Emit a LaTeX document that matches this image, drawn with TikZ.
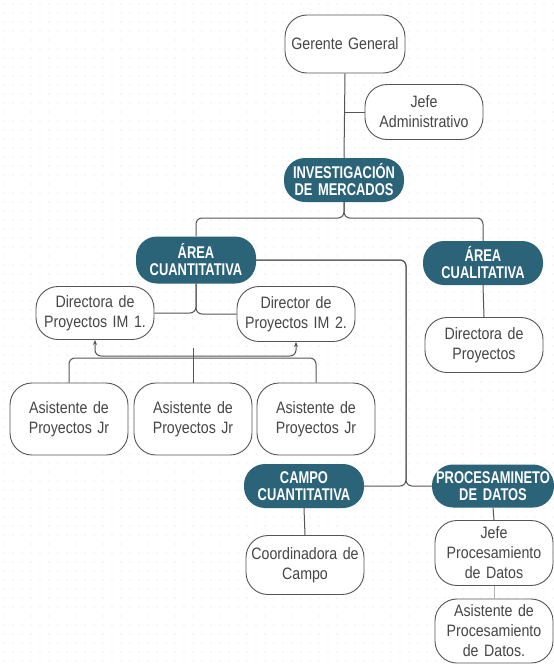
\documentclass[tikz,border=0pt]{standalone}
\usepackage{fontspec}
\setmainfont{Liberation Sans}[FakeStretch=0.86]
\newfontfamily\headfont{Liberation Sans}[FakeStretch=0.76]
\usepackage{tikz}
\usetikzlibrary{arrows.meta, positioning, calc}

\definecolor{tealbox}{RGB}{43,99,120}
\definecolor{linegray}{RGB}{85,85,85}
\definecolor{textgray}{RGB}{70,70,70}
\definecolor{dotgray}{RGB}{222,222,222}

\begin{document}
\begin{tikzpicture}[
    x=1pt, y=-1pt,
    node distance=3mm,
    role/.style={rectangle, draw=linegray, line width=0.9pt, fill=white, rounded corners=22pt, text width=114pt, align=center, minimum width=118pt, minimum height=55pt, inner sep=2pt, text=textgray, font=\fontsize{16.5}{20}\selectfont},
    area/.style={rectangle, fill=tealbox, rounded corners=21pt, text width=118pt, align=center, minimum width=117pt, minimum height=44pt, inner sep=1pt, text=white, font=\headfont\bfseries\fontsize{17}{17}\selectfont},
    link/.style={draw=linegray, line width=1pt, rounded corners=6pt},
    arrow/.style={link, -{Stealth[length=5pt, width=4pt]}},
    faint/.style={draw=gray!60, line width=0.6pt}
]
\useasboundingbox (0,0) rectangle (554,664);
\fill[white] (0,0) rectangle (554,664);

% dot grid in the background
\foreach \x in {4,13,...,553}
  \foreach \y in {4,13,...,662}
    \fill[dotgray] (\x,\y) circle (0.6pt);

% Top section - management
\node[role, minimum width=120pt, minimum height=58pt] (gerente) at (345,44) {Gerente General};
\node[role] (jefeadm) at (424,112) {Jefe\\Administrativo};
\node[area, minimum width=114pt] (invest) at (344,180) {INVESTIGACIÓN\\DE MERCADOS};

% Areas
\node[area, minimum height=47pt] (areacuan) at (196,260) {ÁREA\\CUANTITATIVA};
\node[area] (areacual) at (483,263) {ÁREA\\CUALITATIVA};

% Quantitative area
\node[role, minimum width=115pt, minimum height=53pt] (dir1) at (95,313) {Directora de\\Proyectos IM 1.};
\node[role] (dir2) at (296,314) {Director de\\Proyectos IM 2.};
\node[role, minimum height=72pt] (as1) at (69,419) {Asistente de\\Proyectos Jr};
\node[role, minimum width=115pt, minimum height=72pt] (as2) at (193,419) {Asistente de\\Proyectos Jr};
\node[role, minimum height=72pt] (as3) at (316,419) {Asistente de\\Proyectos Jr};

% Qualitative area
\node[role] (dircual) at (484,345) {Directora de\\Proyectos};

% Field and data processing
\node[area, minimum width=118pt] (campo) at (304,486) {CAMPO\\CUANTITATIVA};
\node[area, minimum width=122pt, minimum height=43pt] (proc) at (493,486) {PROCESAMINETO\\DE DATOS};
\node[role, minimum height=59pt] (coord) at (305,565) {Coordinadora de\\Campo};
\node[role, minimum height=65pt] (jefeproc) at (494,553) {Jefe\\Procesamiento\\de Datos};
\node[role, minimum height=64pt] (asproc) at (494,631) {Asistente de\\Procesamiento\\de Datos.};

% bus points
\coordinate (splitinv) at (344,218);
\coordinate (cuanbus) at (406,486);
\coordinate (asbus) at (193,358);
\coordinate (asmid) at (193,348);
\coordinate (dirbus) at (193,356);

% Connectors
\draw[link] (gerente.south) -- (invest.north);
\draw[link] (gerente.south |- jefeadm.west) -- (jefeadm.west);
\draw[link] (invest.south) -- (splitinv) -| (areacuan.north);
\draw[link] (invest.south) -- (splitinv) -| (areacual.north);
\draw[link] (areacuan.south) |- (dir1.east);
\draw[link] (areacuan.south) |- (dir2.west);
\draw[link] (areacuan.east) -| (cuanbus) -- (campo.east);
\draw[link] (areacuan.east) -| (cuanbus) -- (proc.west);
\draw[link] (areacual.south) -- (dircual.north);
\draw[link] (as1.north) |- (asbus) -| (as3.north);
\draw[link] (as2.north) -- (asmid);
\draw[arrow] (dirbus) -| (dir1.south);
\draw[arrow] (dirbus) -| (dir2.south);
\draw[link] (campo.south) -- (coord.north);
\draw[link] (proc.south) -- (jefeproc.north);
\draw[faint] (jefeproc.south) -- (asproc.north);

\end{tikzpicture}
\end{document}
